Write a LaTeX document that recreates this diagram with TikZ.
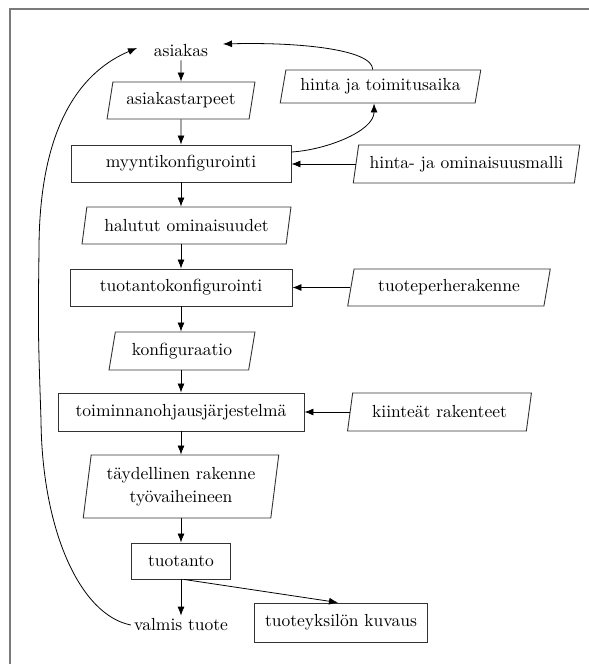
\documentclass[tikz,border=0pt]{standalone}
\usepackage{fontspec}
\setmainfont{lmroman10-regular.otf}
\usepackage{tikz}
\usetikzlibrary{arrows.meta,calc,shapes.geometric}
\definecolor{framegray}{HTML}{7A7A7A}
\definecolor{boxline}{HTML}{333333}

\tikzset{
  flowbox/.style={draw=boxline,line width=0.9pt,minimum height=37pt,inner sep=2pt,
    font=\fontsize{17.5}{23}\selectfont},
  databox/.style={flowbox,trapezium,trapezium left angle=76,trapezium right angle=104,
    trapezium stretches=true},
  plaintext/.style={inner sep=3pt,font=\fontsize{17.5}{23}\selectfont},
  flowarrow/.style={-{Latex[length=9pt,width=7pt]},line width=0.8pt}
}

\begin{document}
\begin{tikzpicture}[x=1pt,y=-1pt]
  \useasboundingbox (0,0) rectangle (589,664);
  % frame
  \draw[framegray,line width=1.8pt] (9,9) -- (589,9);
  \draw[framegray,line width=1.4pt] (10,9) -- (10,664);

  % main column
  \node[plaintext] (asiakas) at (181,51) {asiakas};
  \node[databox,minimum width=148pt] (tarpeet) at (181,100.5) {asiakastarpeet};
  \node[flowbox,minimum width=220pt] (myynti) at (181,163.5) {myyntikonfigurointi};
  \node[databox,minimum width=209pt] (halutut) at (186.5,225.5) {halutut ominaisuudet};
  \node[flowbox,minimum width=222pt] (tuotkonf) at (181,287.5) {tuotantokonfigurointi};
  \node[databox,minimum width=146pt,minimum height=38pt] (konfig) at (182,351) {konfiguraatio};
  \node[flowbox,minimum width=246pt,minimum height=38pt] (toiminnan) at (181,412) {toiminnanohjausjärjestelmä};
  \node[databox,minimum width=196pt,minimum height=63pt,align=center,
    trapezium left angle=81,trapezium right angle=99] (taydellinen) at (181,486.5)
    {täydellinen rakenne\\työvaiheineen};
  \node[flowbox,minimum width=99pt,minimum height=36pt] (tuotanto) at (181,561) {tuotanto};
  \node[plaintext] (valmis) at (181,625) {valmis tuote};
  \node[flowbox,minimum width=173pt,minimum height=39pt] (kuvaus) at (341,622.5) {tuoteyksilön kuvaus};

  % side inputs
  \node[databox,minimum width=201pt,minimum height=33pt] (toimitus) at (380.5,86.5) {hinta ja toimitusaika};
  \node[databox,minimum width=227pt,minimum height=38pt] (malli) at (466.5,164) {hinta- ja ominaisuusmalli};
  \node[databox,minimum width=203pt] (perhe) at (449,287.5) {tuoteperherakenne};
  \node[databox,minimum width=184pt,minimum height=38pt] (kiinteat) at (439.5,412) {kiinteät rakenteet};

  % ends of the loops at the customer
  \coordinate (asiakasoikea) at (223,44);
  \coordinate (asiakasvasen) at (137,48);

  % flow down
  \draw[flowarrow] (asiakas) -- (tarpeet);
  \draw[flowarrow] (tarpeet) -- (myynti);
  \draw[flowarrow] (myynti) -- (myynti|-halutut.north);
  \draw[flowarrow] (myynti|-halutut.south) -- (tuotkonf);
  \draw[flowarrow] (tuotkonf) -- (tuotkonf|-konfig.north);
  \draw[flowarrow] (tuotkonf|-konfig.south) -- (toiminnan);
  \draw[flowarrow] (toiminnan) -- (toiminnan|-taydellinen.north);
  \draw[flowarrow] (toiminnan|-taydellinen.south) -- (tuotanto);
  \draw[flowarrow] (tuotanto) -- (valmis);
  \draw[flowarrow] ([xshift=3pt]tuotanto.south) -- ([xshift=-3pt]kuvaus.north);

  % inputs from the right
  \draw[flowarrow] (malli.west) -- (myynti.east|-malli.west);
  \draw[flowarrow] (perhe.west) -- (tuotkonf.east|-perhe.west);
  \draw[flowarrow] (kiinteat.west) -- (toiminnan.east|-kiinteat.west);

  % price loop
  \draw[flowarrow] ([yshift=11.5pt]myynti.east) .. controls +(34,-2) and +(0,28) ..
    ($(toimitus.south west)!0.31!(toimitus.south east)$);
  \draw[flowarrow] ($(toimitus.north west)!0.27!(toimitus.north east)$)
    .. controls +(0,-20) and +(77,-2) .. (asiakasoikea);

  % product back to customer
  \draw[flowarrow] (valmis.west) .. controls (80,615) and (42,530) .. (41,420)
    .. controls (38,330) .. (39,250)
    .. controls (39,120) and (85,70) .. (asiakasvasen);
\end{tikzpicture}
\end{document}
